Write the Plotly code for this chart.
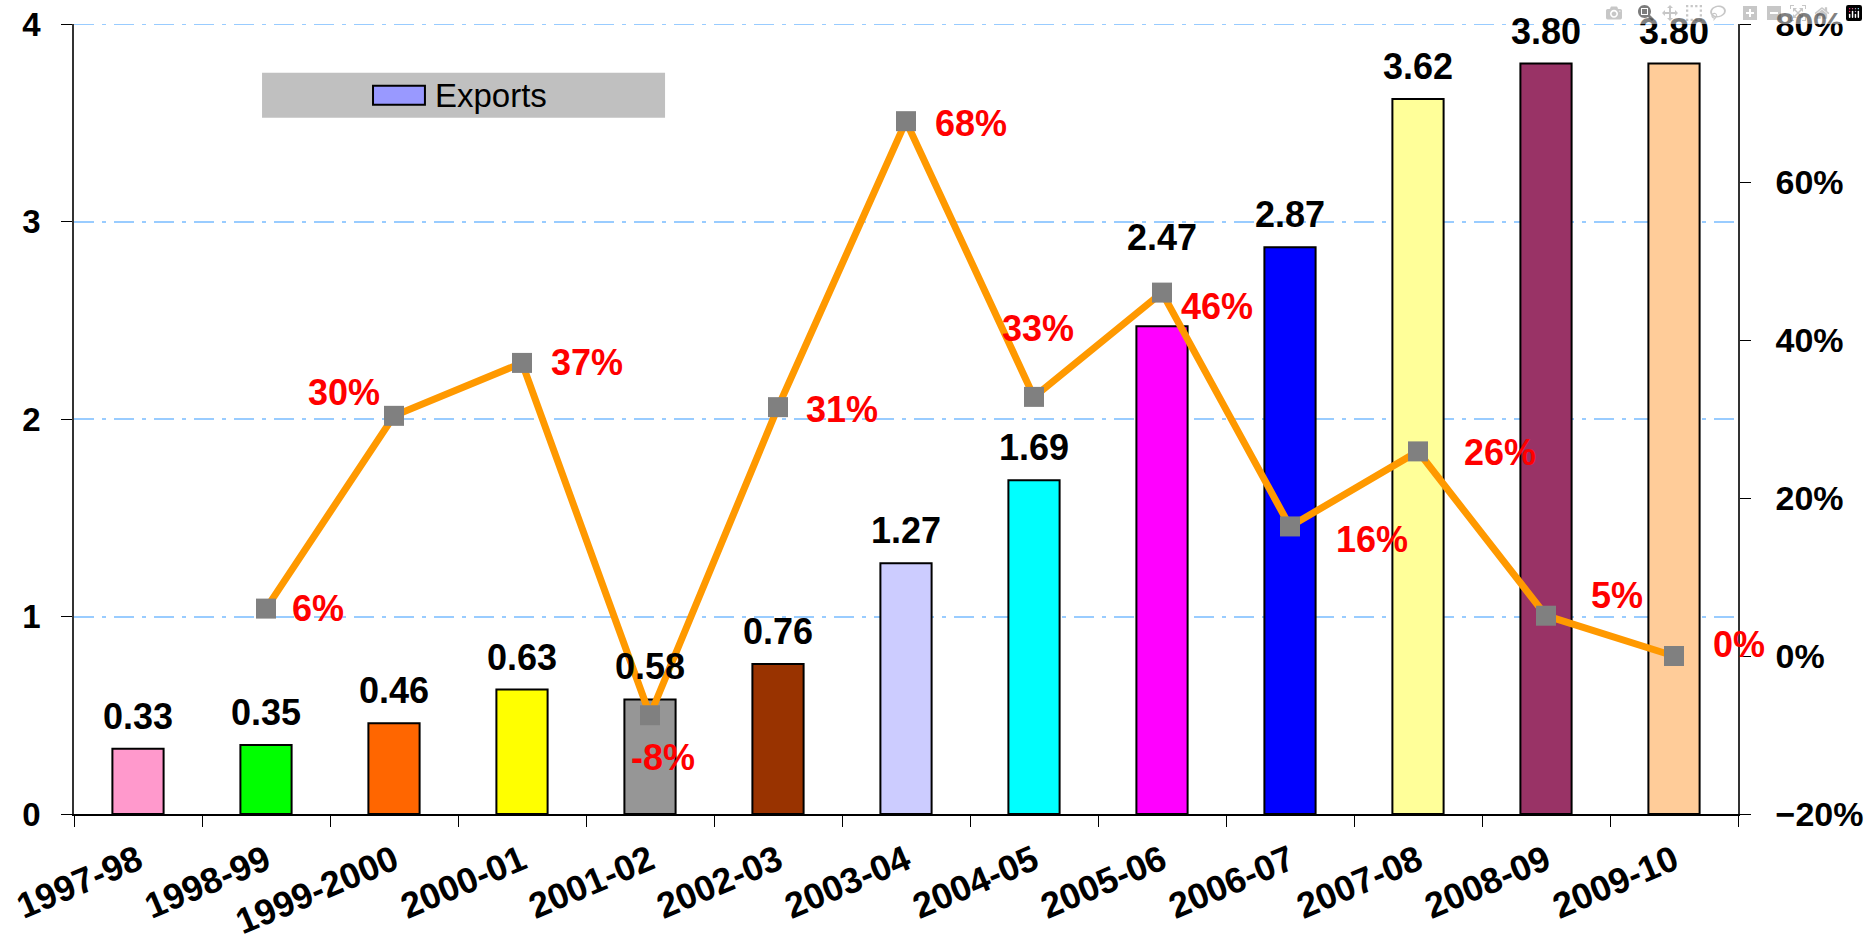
import plotly.graph_objects as go

# ---------------- data ----------------
categories = ["1997-98", "1998-99", "1999-2000", "2000-01", "2001-02", "2002-03",
              "2003-04", "2004-05", "2005-06", "2006-07", "2007-08", "2008-09", "2009-10"]
exports = [0.33, 0.35, 0.46, 0.63, 0.58, 0.76, 1.27, 1.69, 2.47, 2.87, 3.62, 3.80, 3.80]
growth_pct = [None, 6.0, 30.4, 37.1, -7.5, 31.5, 67.7, 32.8, 46.0, 16.4, 25.9, 5.1, 0.0]
growth_labels = [None, "6%", "30%", "37%", "-8%", "31%", "68%", "33%", "46%", "16%", "26%", "5%", "0%"]
legend_name = "Exports"

# ---------------- styles ----------------
bar_colors = ["#FF99CC", "#00FF00", "#FF6600", "#FFFF00", "#969696", "#993300", "#CCCCFF",
              "#00FFFF", "#FF00FF", "#0000FF", "#FFFF99", "#993366", "#FFCC99"]
# extra upward pixel shift of each bar's value label
bar_label_lift = [0, 0, 0, 0, 0, 0, 0, 0, 56, 0, 0, 0, 0]
# pixel offsets of the growth labels relative to their markers (dx, dy up)
label_offsets = [None, (52, 0), (-50, 23), (65, 0), (13, -42), (64, -2), (65, -2),
                 (4, 68), (55, -14), (82, -13), (82, -1), (71, 20), (65, 12)]

FONT = "Liberation Sans, Arial, sans-serif"
GRID_DASH = "20px,8px,4px,8px"
GRID_COLOR = "#99CCFF"

fig = go.Figure()

fig.add_trace(go.Bar(
    x=categories, y=exports, name=legend_name,
    marker=dict(color=bar_colors, line=dict(color="black", width=2)),
    width=0.4, showlegend=False, yaxis="y",
))

fig.add_trace(go.Scatter(
    x=categories, y=growth_pct, mode="lines+markers", yaxis="y2",
    line=dict(color="#FF9900", width=7),
    marker=dict(symbol="square", size=20, color="#808080"),
    showlegend=False, connectgaps=False,
))

annotations = []
for c, v, lift in zip(categories, exports, bar_label_lift):
    annotations.append(dict(
        x=c, y=v, xref="x", yref="y", text=f"{v:.2f}", showarrow=False,
        yanchor="bottom", xanchor="center", yshift=10 + lift,
        font=dict(family=FONT, size=36, color="black", weight="bold"),
    ))
for c, g, t, off in zip(categories, growth_pct, growth_labels, label_offsets):
    if g is None:
        continue
    annotations.append(dict(
        x=c, y=g, xref="x", yref="y2", text=t, showarrow=False,
        xanchor="center", yanchor="middle", xshift=off[0], yshift=off[1],
        font=dict(family=FONT, size=36, color="#FF0000", weight="bold"),
    ))

# legend (drawn box like the original)
annotations.append(dict(
    x=0.2157, y=0.9099, xref="paper", yref="paper", text=legend_name, showarrow=False,
    xanchor="left", yanchor="middle",
    font=dict(family=FONT, size=33, color="black"),
))
shapes = [
    # gridline at the top of the value axis (plotly omits the one at the range end)
    dict(type="line", xref="paper", yref="y", x0=0, x1=1, y0=4, y1=4,
         line=dict(color=GRID_COLOR, width=2, dash=GRID_DASH), layer="below"),
    dict(type="rect", xref="paper", yref="paper", x0=0.1130, x1=0.3552, y0=0.8814, y1=0.9384,
         fillcolor="#C0C0C0", line=dict(width=0), layer="above"),
    dict(type="rect", xref="paper", yref="paper", x0=0.1797, x1=0.2109, y0=0.8979, y1=0.9219,
         fillcolor="#9999FF", line=dict(color="black", width=2), layer="above"),
]

fig.update_layout(
    width=1868, height=938,
    margin=dict(l=74, r=130, t=24, b=124, autoexpand=False),
    paper_bgcolor="white", plot_bgcolor="white",
    font=dict(family=FONT, color="black"),
    annotations=annotations, shapes=shapes,
    xaxis=dict(
        type="category", range=[-0.5, 12.5], automargin=False,
        showline=True, linecolor="black", linewidth=1.5,
        ticks="outside", tickson="boundaries", ticklen=11, tickcolor="black", tickwidth=1,
        tickangle=-23, ticklabelstandoff=10,
        tickfont=dict(family=FONT, size=36, color="black", weight="bold"),
        showgrid=False, zeroline=False,
    ),
    yaxis=dict(
        range=[0, 4], dtick=1, tick0=0, automargin=False,
        showline=True, linecolor="#333333", linewidth=1.5,
        ticks="outside", ticklen=11, tickcolor="black", tickwidth=1,
        ticklabelstandoff=14,
        tickfont=dict(family=FONT, size=33, color="black", weight="bold"),
        showgrid=True, gridcolor=GRID_COLOR, gridwidth=2, griddash=GRID_DASH,
        zeroline=False,
    ),
    yaxis2=dict(
        overlaying="y", side="right", range=[-20, 80], dtick=20, tick0=0,
        ticksuffix="%", automargin=False,
        showline=True, linecolor="#333333", linewidth=1.5,
        ticks="outside", ticklen=11, tickcolor="black", tickwidth=1,
        ticklabelstandoff=18,
        tickfont=dict(family=FONT, size=34, color="black", weight="bold"),
        showgrid=False, zeroline=False,
    ),
)

fig.write_html("out.html", post_script="document.body.style.margin='0';")
